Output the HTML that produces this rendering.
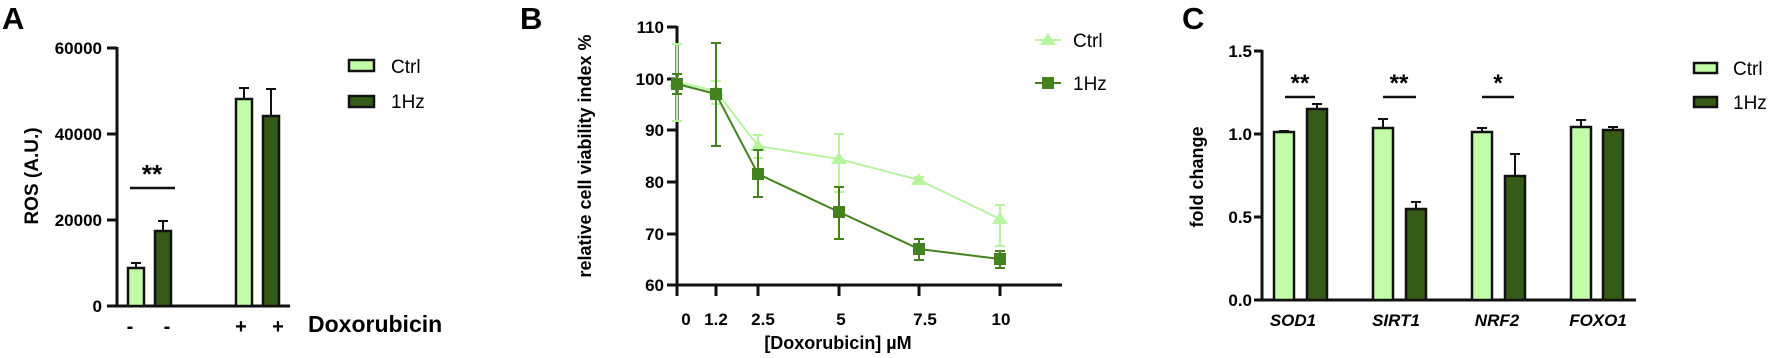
<!DOCTYPE html>
<html><head><meta charset="utf-8"><style>html,body{margin:0;padding:0;background:#fff}svg{display:block}</style></head>
<body>
<svg width="1772" height="358" viewBox="0 0 1772 358" xmlns="http://www.w3.org/2000/svg" font-family="Liberation Sans, Arial, sans-serif">
<!-- Panel A -->
<text x="2" y="29" font-size="31" font-weight="bold">A</text>
<g stroke="#111" stroke-width="3" fill="none">
<line x1="117" y1="47" x2="117" y2="307"/>
<line x1="116" y1="306" x2="290" y2="306"/>
<line x1="107" y1="48" x2="117" y2="48"/><line x1="107" y1="134" x2="117" y2="134"/><line x1="107" y1="220" x2="117" y2="220"/><line x1="107" y1="306" x2="117" y2="306"/>
</g>
<g font-size="17" font-weight="bold" text-anchor="end">
<text x="102" y="54">60000</text><text x="102" y="140">40000</text><text x="102" y="226">20000</text><text x="102" y="312">0</text>
</g>
<text transform="translate(38,176) rotate(-90)" font-size="19" font-weight="bold" text-anchor="middle">ROS (A.U.)</text>
<g stroke="#111" stroke-width="2">
<line x1="136" y1="268" x2="136" y2="263"/><line x1="131" y1="263" x2="141" y2="263"/>
<line x1="163" y1="231" x2="163" y2="221"/><line x1="158" y1="221" x2="168" y2="221"/>
<line x1="244" y1="99" x2="244" y2="88"/><line x1="239" y1="88" x2="249" y2="88"/>
<line x1="271" y1="116" x2="271" y2="89"/><line x1="266" y1="89" x2="276" y2="89"/>
</g>
<g stroke="#111" stroke-width="2.5">
<rect x="128" y="268" width="16" height="38" fill="#c2fca6"/>
<rect x="155" y="231" width="16" height="75" fill="#365a17"/>
<rect x="236" y="99" width="16" height="207" fill="#c2fca6"/>
<rect x="263" y="116" width="16" height="190" fill="#365a17"/>
</g>
<line x1="130" y1="188" x2="175" y2="188" stroke="#111" stroke-width="2.5"/>
<text x="152" y="183" font-size="26" font-weight="bold" text-anchor="middle">**</text>
<g font-size="20" font-weight="bold" text-anchor="middle">
<text x="130" y="333">-</text><text x="167" y="333">-</text><text x="241" y="333">+</text><text x="278" y="333">+</text>
</g>
<text x="308" y="332" font-size="23" font-weight="bold">Doxorubicin</text>
<rect x="349" y="60" width="25" height="11" fill="#c2fca6" stroke="#111" stroke-width="2.5"/>
<rect x="349" y="96" width="25" height="11" fill="#365a17" stroke="#111" stroke-width="2.5"/>
<text x="391" y="73" font-size="19">Ctrl</text>
<text x="391" y="108" font-size="19">1Hz</text>

<!-- Panel B -->
<text x="520" y="29" font-size="31" font-weight="bold">B</text>
<text transform="translate(591,156) rotate(-90)" font-size="18" font-weight="bold" text-anchor="middle">relative cell viability index %</text>
<g stroke="#111" stroke-width="3" fill="none">
<line x1="677" y1="26" x2="677" y2="296"/>
<line x1="676" y1="285" x2="1062" y2="285"/>
<line x1="667" y1="27" x2="677" y2="27"/><line x1="667" y1="79" x2="677" y2="79"/><line x1="667" y1="130" x2="677" y2="130"/><line x1="667" y1="182" x2="677" y2="182"/><line x1="667" y1="234" x2="677" y2="234"/><line x1="667" y1="285" x2="677" y2="285"/>
<line x1="716" y1="285" x2="716" y2="296"/><line x1="758" y1="285" x2="758" y2="296"/><line x1="839" y1="285" x2="839" y2="296"/><line x1="919" y1="285" x2="919" y2="296"/><line x1="1000" y1="285" x2="1000" y2="296"/>
</g>
<g font-size="17" font-weight="bold" text-anchor="end">
<text x="664" y="33">110</text><text x="664" y="85">100</text><text x="664" y="136">90</text><text x="664" y="188">80</text><text x="664" y="240">70</text><text x="664" y="291">60</text>
</g>
<g font-size="17" font-weight="bold" text-anchor="middle">
<text x="686" y="325">0</text><text x="716" y="325">1.2</text><text x="763" y="325">2.5</text><text x="841" y="325">5</text><text x="925" y="325">7.5</text><text x="1001" y="325">10</text>
</g>
<text x="838" y="349" font-size="18" font-weight="bold" text-anchor="middle">[Doxorubicin] µM</text>
<!-- Ctrl series -->
<g stroke="#b8f3a0" stroke-width="2" fill="none">
<polyline points="677,82 716,91 758,146 839,159 919,180 1000,219"/>
<line x1="677" y1="44" x2="677" y2="121"/><line x1="672" y1="44" x2="682" y2="44"/><line x1="672" y1="121" x2="682" y2="121"/>
<line x1="716" y1="81" x2="716" y2="104"/><line x1="711" y1="81" x2="721" y2="81"/><line x1="711" y1="104" x2="721" y2="104"/>
<line x1="758" y1="135" x2="758" y2="158"/><line x1="753" y1="135" x2="763" y2="135"/><line x1="753" y1="158" x2="763" y2="158"/>
<line x1="839" y1="134" x2="839" y2="192"/><line x1="834" y1="134" x2="844" y2="134"/><line x1="834" y1="192" x2="844" y2="192"/>
<line x1="919" y1="177" x2="919" y2="185"/><line x1="914" y1="177" x2="924" y2="177"/>
<line x1="1000" y1="205" x2="1000" y2="246"/><line x1="995" y1="205" x2="1005" y2="205"/><line x1="995" y1="246" x2="1005" y2="246"/>
<line x1="1035" y1="40" x2="1061" y2="40"/>
</g>
<g fill="#b8f3a0">
<polygon points="677,75 685,87 669,87"/><polygon points="716,84 724,96 708,96"/><polygon points="758,139 766,151 750,151"/><polygon points="839,152 847,164 831,164"/><polygon points="919,173 927,185 911,185"/><polygon points="1000,212 1008,224 992,224"/><polygon points="1048,33 1056,45 1040,45"/>
</g>
<!-- 1Hz series -->
<g stroke="#44821f" stroke-width="2" fill="none">
<polyline points="677,84 716,94 758,174 839,212 919,249 1000,259"/>
<line x1="677" y1="74" x2="677" y2="94"/><line x1="672" y1="74" x2="682" y2="74"/><line x1="672" y1="94" x2="682" y2="94"/>
<line x1="716" y1="43" x2="716" y2="146"/><line x1="711" y1="43" x2="721" y2="43"/><line x1="711" y1="146" x2="721" y2="146"/>
<line x1="758" y1="150" x2="758" y2="197"/><line x1="753" y1="150" x2="763" y2="150"/><line x1="753" y1="197" x2="763" y2="197"/>
<line x1="839" y1="187" x2="839" y2="239"/><line x1="834" y1="187" x2="844" y2="187"/><line x1="834" y1="239" x2="844" y2="239"/>
<line x1="919" y1="239" x2="919" y2="260"/><line x1="914" y1="239" x2="924" y2="239"/><line x1="914" y1="260" x2="924" y2="260"/>
<line x1="1000" y1="251" x2="1000" y2="268"/><line x1="995" y1="251" x2="1005" y2="251"/><line x1="995" y1="268" x2="1005" y2="268"/>
<line x1="1035" y1="83" x2="1061" y2="83"/>
</g>
<g fill="#44821f">
<rect x="671" y="78" width="12" height="12"/><rect x="710" y="88" width="12" height="12"/><rect x="752" y="168" width="12" height="12"/><rect x="833" y="206" width="12" height="12"/><rect x="913" y="243" width="12" height="12"/><rect x="994" y="253" width="12" height="12"/><rect x="1042" y="77" width="12" height="12"/>
</g>
<text x="1073" y="47" font-size="19">Ctrl</text>
<text x="1073" y="90" font-size="19">1Hz</text>

<!-- Panel C -->
<text x="1182" y="29" font-size="31" font-weight="bold">C</text>
<text transform="translate(1203,177) rotate(-90)" font-size="18" font-weight="bold" text-anchor="middle">fold change</text>
<g stroke="#111" stroke-width="3" fill="none">
<line x1="1262" y1="50" x2="1262" y2="301"/>
<line x1="1261" y1="300" x2="1636" y2="300"/>
<line x1="1254" y1="51" x2="1262" y2="51"/><line x1="1254" y1="134" x2="1262" y2="134"/><line x1="1254" y1="217" x2="1262" y2="217"/><line x1="1254" y1="300" x2="1262" y2="300"/>
</g>
<g font-size="17" font-weight="bold" text-anchor="end">
<text x="1252" y="57">1.5</text><text x="1252" y="140">1.0</text><text x="1252" y="223">0.5</text><text x="1252" y="306">0.0</text>
</g>
<g stroke="#111" stroke-width="2">
<line x1="1284" y1="132" x2="1284" y2="131"/><line x1="1279" y1="131" x2="1289" y2="131"/>
<line x1="1317" y1="109" x2="1317" y2="104"/><line x1="1312" y1="104" x2="1322" y2="104"/>
<line x1="1383" y1="128" x2="1383" y2="119"/><line x1="1378" y1="119" x2="1388" y2="119"/>
<line x1="1416" y1="209" x2="1416" y2="202"/><line x1="1411" y1="202" x2="1421" y2="202"/>
<line x1="1482" y1="132" x2="1482" y2="128"/><line x1="1477" y1="128" x2="1487" y2="128"/>
<line x1="1515" y1="176" x2="1515" y2="154"/><line x1="1510" y1="154" x2="1520" y2="154"/>
<line x1="1581" y1="127" x2="1581" y2="120"/><line x1="1576" y1="120" x2="1586" y2="120"/>
<line x1="1613" y1="130" x2="1613" y2="127"/><line x1="1608" y1="127" x2="1618" y2="127"/>
</g>
<g stroke="#111" stroke-width="2.5">
<rect x="1274" y="132" width="20" height="168" fill="#c2fca6"/>
<rect x="1307" y="109" width="20" height="191" fill="#365a17"/>
<rect x="1373" y="128" width="20" height="172" fill="#c2fca6"/>
<rect x="1406" y="209" width="20" height="91" fill="#365a17"/>
<rect x="1472" y="132" width="20" height="168" fill="#c2fca6"/>
<rect x="1505" y="176" width="20" height="124" fill="#365a17"/>
<rect x="1571" y="127" width="20" height="173" fill="#c2fca6"/>
<rect x="1603" y="130" width="20" height="170" fill="#365a17"/>
</g>
<g stroke="#111" stroke-width="2.5">
<line x1="1285" y1="97" x2="1315" y2="97"/><line x1="1383" y1="97" x2="1416" y2="97"/><line x1="1482" y1="97" x2="1514" y2="97"/>
</g>
<g font-size="24" font-weight="bold" text-anchor="middle">
<text x="1300" y="91">**</text><text x="1399" y="91">**</text><text x="1498" y="91">*</text>
</g>
<g font-size="17" font-weight="bold" font-style="italic" text-anchor="middle">
<text x="1293" y="326">SOD1</text><text x="1396" y="326">SIRT1</text><text x="1497" y="326">NRF2</text><text x="1598" y="326">FOXO1</text>
</g>
<rect x="1694" y="63" width="23" height="10" fill="#c2fca6" stroke="#111" stroke-width="2.5"/>
<rect x="1694" y="97" width="23" height="10" fill="#365a17" stroke="#111" stroke-width="2.5"/>
<text x="1733" y="75" font-size="19">Ctrl</text>
<text x="1733" y="109" font-size="19">1Hz</text>
</svg>
</body></html>
